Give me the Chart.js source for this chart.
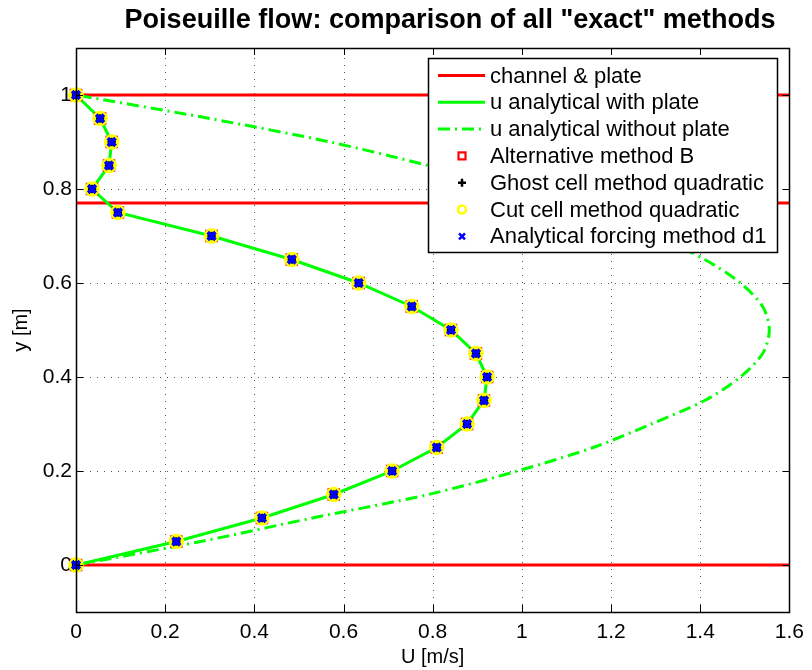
<!DOCTYPE html>
<html>
<head>
<meta charset="utf-8">
<script src="https://cdn.jsdelivr.net/npm/chart.js@4.4.1/dist/chart.umd.min.js"></script>
<style>
  html, body { margin: 0; padding: 0; background: #fff; }
  #wrap { width: 812px; height: 670px; }
</style>
</head>
<body>
<div id="wrap"><canvas id="flowChart" width="812" height="670"></canvas></div>
<script>
// Sample heights across the channel [m]
const yPositions = [0, 0.05, 0.1, 0.15, 0.2, 0.25, 0.3, 0.35, 0.4, 0.45, 0.5,
                    0.55, 0.6, 0.65, 0.7, 0.75, 0.8, 0.85, 0.9, 0.95, 1.0];

// Velocity profiles [m/s]
const uWithPlate = [0, 0.225, 0.417, 0.578, 0.709, 0.809, 0.877, 0.915, 0.922, 0.897, 0.841,
                    0.753, 0.634, 0.484, 0.304, 0.094, 0.036, 0.074, 0.080, 0.054, 0];
const uWithoutPlate = [0, 0.28, 0.53, 0.79, 0.99, 1.16, 1.29, 1.41, 1.49, 1.54, 1.555,
                       1.54, 1.49, 1.41, 1.30, 1.16, 0.99, 0.79, 0.57, 0.30, 0];
// all four "exact" methods land on the same values
const uExactMethods = [0, 0.225, 0.417, 0.578, 0.709, 0.809, 0.877, 0.915, 0.922, 0.897, 0.841,
                       0.753, 0.634, 0.484, 0.304, 0.094, 0.036, 0.074, 0.080, 0.054, 0];

// Channel walls and the plate
const wallY = [0, 0.77, 1];
const uRange = [0, 1.6];

const xTicks = [0, 0.2, 0.4, 0.6, 0.8, 1, 1.2, 1.4, 1.6];
const yTicks = [0, 0.2, 0.4, 0.6, 0.8, 1];

const RED = '#ff0000';
const GREEN = '#00ff00';
const FONT = "'Liberation Sans', Arial, Helvetica, sans-serif";
const DASHDOT = [12, 5, 2, 5];

function pts(us) {
    return us.map((u, i) => ({ x: u, y: yPositions[i] }));
}

// Marker datasets first so they end up on top
const datasets = [
    { label: 'Analytical forcing method d1', data: pts(uExactMethods), showLine: false,
      pointStyle: 'crossRot', pointRadius: 5.5, pointBorderWidth: 3.6, borderColor: '#0000ff',
      backgroundColor: '#0000ff', clip: false },
    { label: 'Cut cell method quadratic', data: pts(uExactMethods), showLine: false,
      pointStyle: 'circle', pointRadius: 6, pointBorderWidth: 3.5, borderColor: '#ffff00',
      backgroundColor: 'rgba(0,0,0,0)', clip: false },
    { label: 'Ghost cell method quadratic', data: pts(uExactMethods), showLine: false,
      pointStyle: 'cross', pointRadius: 5, pointBorderWidth: 2.5, borderColor: '#000000',
      clip: false },
    { label: 'Alternative method B', data: pts(uExactMethods), showLine: false,
      pointStyle: 'rect', pointRadius: 8, pointBorderWidth: 1.2, borderColor: RED,
      backgroundColor: 'rgba(0,0,0,0)', clip: false },
    { label: 'u analytical with plate', data: pts(uWithPlate), showLine: true,
      borderColor: GREEN, borderWidth: 3, pointRadius: 0 },
    { label: 'u analytical without plate', data: pts(uWithoutPlate), showLine: true,
      borderColor: GREEN, borderWidth: 3, borderDash: DASHDOT, pointRadius: 0, tension: 0.3 }
];
wallY.forEach(y => {
    datasets.push({ label: 'channel & plate', data: uRange.map(u => ({ x: u, y: y })),
        showLine: true, borderColor: RED, borderWidth: 3, pointRadius: 0 });
});

const legendItems = [
    { label: 'channel & plate', kind: 'line', color: RED },
    { label: 'u analytical with plate', kind: 'line', color: GREEN },
    { label: 'u analytical without plate', kind: 'dashdot', color: GREEN },
    { label: 'Alternative method B', kind: 'square', color: RED },
    { label: 'Ghost cell method quadratic', kind: 'plus', color: '#000000' },
    { label: 'Cut cell method quadratic', kind: 'circle', color: '#ffff00' },
    { label: 'Analytical forcing method d1', kind: 'x', color: '#0000ff' }
];

// grid, box, inward ticks, title and legend in MATLAB style
const matlabAxes = {
    id: 'matlabAxes',
    beforeDatasetsDraw(chart) {
        const { ctx, chartArea: a, scales: { x, y } } = chart;
        ctx.save();
        ctx.strokeStyle = '#555';
        ctx.lineWidth = 1;
        ctx.setLineDash([1, 6]);
        xTicks.forEach(v => {
            const px = Math.round(x.getPixelForValue(v)) + 0.5;
            if (px <= a.left + 1 || px >= a.right - 1) return;
            ctx.beginPath(); ctx.moveTo(px, a.bottom); ctx.lineTo(px, a.top); ctx.stroke();
        });
        yTicks.forEach(v => {
            const py = Math.round(y.getPixelForValue(v)) + 0.5;
            ctx.beginPath(); ctx.moveTo(a.left, py); ctx.lineTo(a.right, py); ctx.stroke();
        });
        ctx.restore();
    },
    afterDatasetsDraw(chart) {
        const { ctx, chartArea: a, scales: { x, y } } = chart;
        const len = 7;
        ctx.save();
        ctx.strokeStyle = '#000';
        ctx.lineWidth = 1;
        ctx.beginPath();
        xTicks.forEach(v => {
            const px = Math.round(x.getPixelForValue(v)) + 0.5;
            ctx.moveTo(px, a.bottom); ctx.lineTo(px, a.bottom - len);
            ctx.moveTo(px, a.top); ctx.lineTo(px, a.top + len);
        });
        yTicks.forEach(v => {
            const py = Math.round(y.getPixelForValue(v)) + 0.5;
            ctx.moveTo(a.left, py); ctx.lineTo(a.left + len, py);
            ctx.moveTo(a.right, py); ctx.lineTo(a.right - len, py);
        });
        ctx.stroke();
        ctx.lineWidth = 1.5;
        ctx.strokeRect(Math.round(a.left) + 0.5, Math.round(a.top) + 0.5,
                       Math.round(a.right - a.left), Math.round(a.bottom - a.top));
        ctx.restore();
    },
    afterDraw(chart) {
        const { ctx } = chart;
        ctx.save();
        // title, squeezed to the narrow bold face of the original
        const title = 'Poiseuille flow: comparison of all "exact" methods';
        ctx.font = 'bold 27px ' + FONT;
        ctx.fillStyle = '#000';
        ctx.textBaseline = 'alphabetic';
        ctx.textAlign = 'center';
        const w = ctx.measureText(title).width;
        const sx = 651 / w;
        ctx.translate(450, 28);
        ctx.scale(sx, 1);
        ctx.fillText(title, 0, 0);
        ctx.setTransform(1, 0, 0, 1, 0, 0);

        // legend box
        const bx = 428, by = 58, bw = 349, bh = 194;
        ctx.fillStyle = '#fff';
        ctx.fillRect(bx, by, bw, bh);
        ctx.strokeStyle = '#000';
        ctx.lineWidth = 1.5;
        ctx.strokeRect(bx + 0.5, by + 0.5, bw, bh);
        ctx.font = '22px ' + FONT;
        ctx.textAlign = 'left';
        ctx.textBaseline = 'middle';
        legendItems.forEach((it, i) => {
            const ry = 75.5 + i * 26.8;
            const mx = 462;
            ctx.setLineDash([]);
            ctx.strokeStyle = it.color;
            if (it.kind === 'line' || it.kind === 'dashdot') {
                ctx.lineWidth = 3;
                if (it.kind === 'dashdot') ctx.setLineDash(DASHDOT);
                ctx.beginPath(); ctx.moveTo(438, ry); ctx.lineTo(485, ry); ctx.stroke();
                ctx.setLineDash([]);
            } else if (it.kind === 'square') {
                ctx.lineWidth = 2.2;
                ctx.strokeRect(mx - 3.5, ry - 3.5, 7, 7);
            } else if (it.kind === 'plus') {
                ctx.lineWidth = 2.5;
                ctx.beginPath();
                ctx.moveTo(mx - 4, ry); ctx.lineTo(mx + 4, ry);
                ctx.moveTo(mx, ry - 4); ctx.lineTo(mx, ry + 4);
                ctx.stroke();
            } else if (it.kind === 'circle') {
                ctx.lineWidth = 2.5;
                ctx.beginPath(); ctx.arc(mx, ry, 4, 0, Math.PI * 2); ctx.stroke();
            } else if (it.kind === 'x') {
                ctx.lineWidth = 2.5;
                ctx.beginPath();
                ctx.moveTo(mx - 3, ry - 3); ctx.lineTo(mx + 3, ry + 3);
                ctx.moveTo(mx + 3, ry - 3); ctx.lineTo(mx - 3, ry + 3);
                ctx.stroke();
            }
            ctx.fillStyle = '#000';
            ctx.fillText(it.label, 490, ry + 1);
        });
        ctx.restore();
    }
};

const fmt = v => String(Math.round(v * 10) / 10);

new Chart(document.getElementById('flowChart'), {
    type: 'scatter',
    data: { datasets: datasets },
    options: {
        responsive: false,
        animation: false,
        devicePixelRatio: 1,
        layout: { padding: { top: 48, right: 19, left: 0, bottom: 0 } },
        plugins: {
            legend: { display: false },
            title: { display: false },
            tooltip: { enabled: false }
        },
        scales: {
            x: {
                type: 'linear', min: 0, max: 1.6,
                afterBuildTicks: s => { s.ticks = xTicks.map(v => ({ value: v })); },
                afterFit: s => { s.height = 58; },
                grid: { display: false, drawTicks: false },
                border: { display: false },
                ticks: { color: '#000', font: { family: FONT, size: 21 }, padding: 8,
                         maxRotation: 0, autoSkip: false, callback: fmt },
                title: { display: true, text: 'U [m/s]', color: '#000',
                         font: { family: FONT, size: 20 }, padding: { top: 0, bottom: 1 } }
            },
            y: {
                type: 'linear', min: -0.1, max: 1.1,
                afterBuildTicks: s => { s.ticks = yTicks.map(v => ({ value: v })); },
                afterFit: s => { s.width = 76; },
                grid: { display: false, drawTicks: false },
                border: { display: false },
                ticks: { color: '#000', font: { family: FONT, size: 21 }, padding: 4,
                         autoSkip: false, callback: fmt },
                title: { display: true, text: 'y [m]', color: '#000',
                         font: { family: FONT, size: 20 }, padding: { top: 9, bottom: 9 } }
            }
        }
    },
    plugins: [matlabAxes]
});
</script>
</body>
</html>
